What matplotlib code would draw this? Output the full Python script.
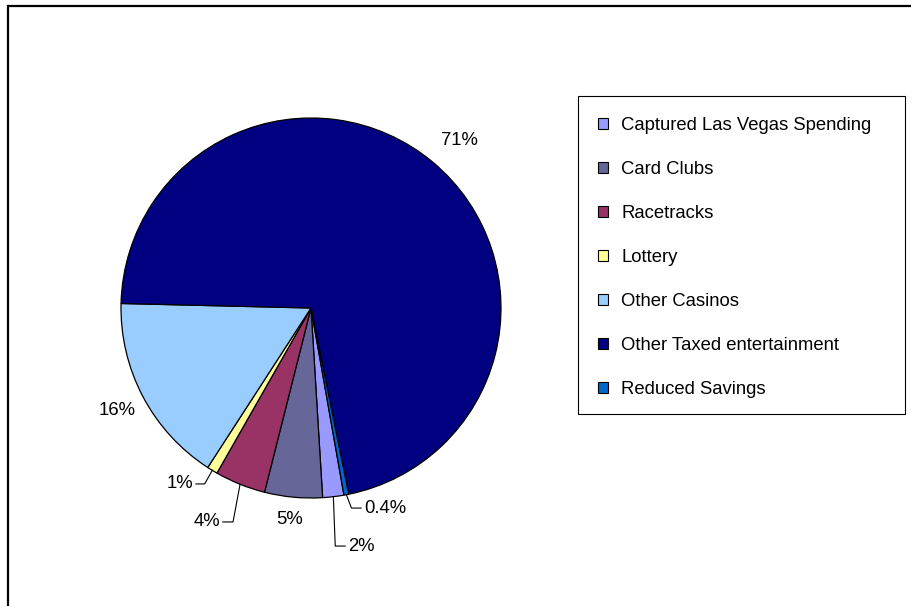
import matplotlib
matplotlib.use('Agg')
import matplotlib.pyplot as plt
import numpy as np
from matplotlib.patches import Rectangle

plt.rcParams['font.family'] = ['Liberation Sans', 'DejaVu Sans']

categories = ['Captured Las Vegas Spending', 'Card Clubs', 'Racetracks', 'Lottery',
              'Other Casinos', 'Other Taxed entertainment', 'Reduced Savings']
shares = [1.8, 4.9, 4.3, 0.9, 16.2, 71.3, 0.4]
colors = ['#9999FF', '#666699', '#993366', '#FFFF99', '#99CCFF', '#000080', '#0066CC']

W, H = 911, 606
fig = plt.figure(figsize=(W / 100, H / 100), dpi=100)
fig.patch.set_facecolor('white')

# pie centre (311, 308) px, radius 190 px
cx, cy, R = 311, 308, 190
ax = fig.add_axes([(cx - R) / W, (H - cy - R) / H, 2 * R / W, 2 * R / H])

wedges, _ = ax.pie(shares, colors=colors, startangle=-80, counterclock=False,
                   radius=1, wedgeprops=dict(edgecolor='black', linewidth=0.9))
ax.set_xlim(-1, 1)
ax.set_ylim(-1, 1)
ax.axis('off')
for w in wedges:
    w.set_clip_on(False)

total = sum(shares)
def fmt(v):
    p = 100 * v / total
    return f'{p:.0f}%' if p >= 0.5 else f'{p:.1f}%'

fs = 13.3
# label placement: (text x, text y, ha, leader?, elbow dx)
label_pos = {
    0: (0.195, -1.253, 'left', True, 0.01),
    1: (-0.111, -1.111, 'center', False, 0),
    2: (-0.479, -1.126, 'right', True, -0.037),
    3: (-0.621, -0.926, 'right', True, -0.04),
    4: (-1.021, -0.537, 'center', False, 0),
    5: (0.779, 0.884, 'center', False, 0),
    6: (0.279, -1.053, 'left', True, 0.027),
}
for i, w in enumerate(wedges):
    tx, ty, ha, lead, dx = label_pos[i]
    ax.text(tx, ty, fmt(shares[i]), ha=ha, va='center', fontsize=fs, color='black',
            clip_on=False)
    if lead:
        m = np.deg2rad((w.theta1 + w.theta2) / 2)
        px, py = np.cos(m), np.sin(m)
        gap = -0.015 if ha == 'left' else 0.015
        ax.plot([px, px + dx, tx + gap], [py, ty, ty], color='black', lw=0.8,
                clip_on=False)

# legend box (578..905, 96..414 px)
fig.patches.append(Rectangle((578 / W, 1 - 414 / H), (905 - 578) / W, (414 - 96) / H,
                             transform=fig.transFigure, facecolor='white',
                             edgecolor='black', lw=0.8, zorder=0))
leg = fig.legend(wedges, categories, loc='upper left',
                 bbox_to_anchor=(598 / W, 1 - 117 / H), frameon=False,
                 fontsize=fs, handlelength=0.55, handleheight=0.55,
                 handletextpad=0.7, labelspacing=1.46, borderpad=0, borderaxespad=0)
for h in leg.legend_handles:
    h.set_edgecolor('black')
    h.set_linewidth(0.8)

# outer chart frame (runs past right and bottom edges)
fig.patches.append(Rectangle((8 / W, -0.05), 1.0, 1 - 6 / H + 0.05,
                             transform=fig.transFigure, facecolor='none',
                             edgecolor='black', lw=1.6, zorder=0))

fig.savefig('out.png', dpi=100, facecolor='white')
